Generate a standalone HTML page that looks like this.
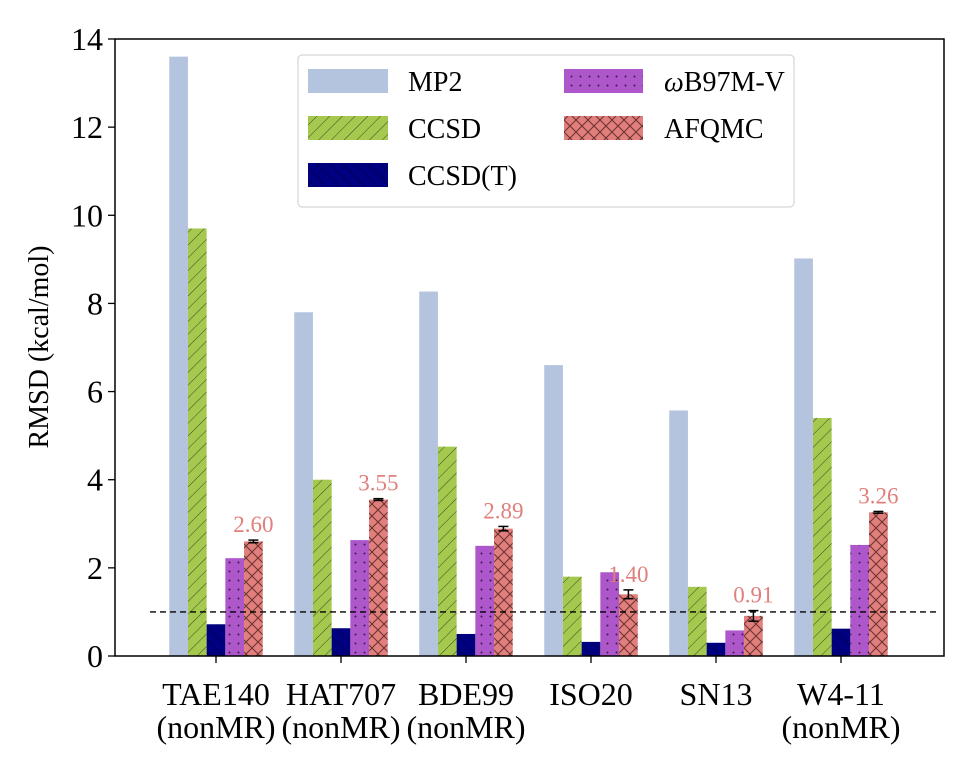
<!DOCTYPE html>
<html><head><meta charset="utf-8"><style>
body{margin:0;background:#fff}
svg text{font-family:"Liberation Serif",serif;fill:#000}
</style></head><body>
<svg width="976" height="758" viewBox="0 0 976 758">
<defs>
<pattern id="hatchF" width="9" height="9" patternUnits="userSpaceOnUse" patternTransform="rotate(45)"><rect width="9" height="9" fill="#a5c94f"/><line x1="0" y1="0" x2="0" y2="9" stroke="#3b4a1c" stroke-width="1"/></pattern>
<pattern id="hatchB" width="9" height="9" patternUnits="userSpaceOnUse" patternTransform="rotate(-45)"><rect width="9" height="9" fill="#000080"/><line x1="0" y1="0" x2="0" y2="9" stroke="#000030" stroke-width="1"/></pattern>
<pattern id="dots" width="9" height="9" patternUnits="userSpaceOnUse"><rect width="9" height="9" fill="#ad57cb"/><circle cx="4.5" cy="4.5" r="1" fill="#3a1a48"/></pattern>
<pattern id="cross" width="12" height="12" patternUnits="userSpaceOnUse"><rect width="12" height="12" fill="#e07f7c"/><path d="M0 0L12 12M12 0L0 12" stroke="#6a3030" stroke-width="1"/></pattern>
</defs>
<g id="bars"></g>
<g id="axes"></g>
<g>
<rect x="298" y="55" width="496" height="152" rx="4" fill="#fff" stroke="#ccc" stroke-width="1"/>
<rect x="308" y="69" width="80" height="24" fill="#b5c4de"/><text x="408" y="91" font-size="28">MP2</text>
<rect x="308" y="116" width="80" height="24" fill="url(#hatchF)"/><text x="408" y="138" font-size="28">CCSD</text>
<rect x="308" y="163" width="80" height="24" fill="url(#hatchB)"/><text x="408" y="185" font-size="28">CCSD(T)</text>
<rect x="564" y="69" width="79" height="24" fill="url(#dots)"/><text x="664" y="91" font-size="28"><tspan font-style="italic">ω</tspan>B97M-V</text>
<rect x="564" y="116" width="79" height="24" fill="url(#cross)"/><text x="664" y="138" font-size="28">AFQMC</text>
</g>
</svg>
<script>
const categories=["TAE140\n(nonMR)","HAT707\n(nonMR)","BDE99\n(nonMR)","ISO20","SN13","W4-11\n(nonMR)"];
const mp2=[13.6,7.8,8.27,6.6,5.57,9.02];
const ccsd=[9.7,4.0,4.75,1.8,1.57,5.4];
const ccsdt=[0.72,0.63,0.5,0.32,0.3,0.62];
const wb97mv=[2.22,2.63,2.5,1.9,0.58,2.52];
const afqmc=[2.60,3.55,2.89,1.40,0.91,3.26];
const afqmcErr=[0.03,0.02,0.05,0.1,0.12,0.02];
const yTicks=[0,2,4,6,8,10,12,14];
const refLine=1;
const NS="http://www.w3.org/2000/svg";
const L=115,R=944,T=39,B=656;
const y=v=>B-(v/14)*(B-T);
const xc=i=>216+125*i;
const bw=18.7;
function mk(tag,attrs,parent){const e=document.createElementNS(NS,tag);for(const k in attrs)e.setAttribute(k,attrs[k]);parent.appendChild(e);return e;}
const bars=document.getElementById('bars'),axes=document.getElementById('axes');
const series=[[mp2,'#b5c4de','mp2'],[ccsd,'url(#hatchF)','ccsd'],[ccsdt,'url(#hatchB)','ccsdt'],[wb97mv,'url(#dots)','wb97mv'],[afqmc,'url(#cross)','afqmc']];
categories.forEach((c,i)=>{
 series.forEach(([arr,fill,nm],k)=>{
  const x0=xc(i)+(k-2.5)*bw;
  const r=mk('rect',{x:x0,y:y(arr[i]),width:bw,height:B-y(arr[i]),fill:fill},bars);
  
  
 });
 const ex=xc(i)+2*bw;
 const g=mk('g',{stroke:'#000','stroke-width':1.5},bars);
 
 
 mk('line',{x1:ex,x2:ex,y1:y(afqmc[i]+afqmcErr[i]),y2:y(afqmc[i]-afqmcErr[i])},g);
 mk('line',{x1:ex-5,x2:ex+5,y1:y(afqmc[i]+afqmcErr[i]),y2:y(afqmc[i]+afqmcErr[i])},g);
 mk('line',{x1:ex-5,x2:ex+5,y1:y(afqmc[i]-afqmcErr[i]),y2:y(afqmc[i]-afqmcErr[i])},g);
 const t=mk('text',{x:ex,y:y(afqmc[i]+afqmcErr[i])-8,'text-anchor':'middle','font-size':23,style:'fill:#e07f7c'},bars);
 t.textContent=afqmc[i].toFixed(2);
 
 
 mk('line',{x1:xc(i),x2:xc(i),y1:B,y2:B+7,stroke:'#000','stroke-width':1.3},axes);
 c.split('\n').forEach((ln,j)=>{
  const tl=mk('text',{x:xc(i),y:705+j*33,'text-anchor':'middle','font-size':32},axes);
  tl.textContent=ln;
  
  
 });
});
const dl=mk('line',{x1:150,x2:936,y1:y(refLine),y2:y(refLine),stroke:'#000','stroke-width':1.3,'stroke-dasharray':'6,4'},bars);


yTicks.forEach(v=>{
 mk('line',{x1:L-7,x2:L,y1:y(v),y2:y(v),stroke:'#000','stroke-width':1.3},axes);
 const t=mk('text',{x:L-12,y:y(v)+11,'text-anchor':'end','font-size':32},axes);
 t.textContent=v;
 
 
});
const fr=mk('rect',{x:L,y:T,width:R-L,height:B-T,fill:'none',stroke:'#000','stroke-width':1.5},axes);


const yt=mk('text',{x:48,y:347,'text-anchor':'middle','font-size':28,transform:'rotate(-90 48 347)'},axes);
yt.textContent='RMSD (kcal/mol)';


</script>
</body></html>
